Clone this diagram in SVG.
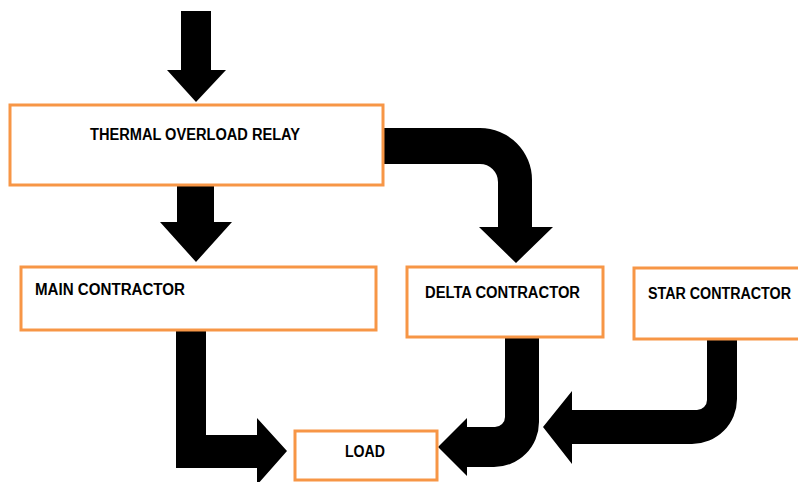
<svg xmlns="http://www.w3.org/2000/svg" width="798" height="482" viewBox="0 0 798 482">
<style>
.box{fill:#fff;stroke:#F79646;stroke-width:3}
.lbl{font-family:"Liberation Sans",Arial,sans-serif;font-weight:bold;font-size:16px;fill:#000}
.arr{fill:#000}
</style>
<rect width="798" height="482" fill="#fff"/>
<g id="connectors">
<path class="arr" d="M181,11 H211 V70 H226 L196,102 L167,70 H181 Z"/>
<path class="arr" d="M177,185 H214 V222 H232 L196,262 L160,222 H177 Z"/>
<path class="arr" d="M383,128 H480 A52,52 0 0 1 532,180 V227 H553 L516,263 L479,227 H498 V182 A18,18 0 0 0 480,164 H383 Z"/>
<path class="arr" d="M176,329 H206 V435 H257 V418 L287,451 L257,485 V468 H176 Z"/>
<path class="arr" d="M505,337 H539 V422 A45,45 0 0 1 494,467 H467 V476 L438,447 L467,418 V427 H495 A10,10 0 0 0 505,417 Z"/>
<path class="arr" d="M707,340 H737 V399 A45,45 0 0 1 692,444 H572 V464 L543,427 L572,391 V410 H697 A10,10 0 0 0 707,400 Z"/>
</g>
<g id="thermal">
<rect class="box" x="10" y="105" width="373" height="80"/>
<text class="lbl" x="90" y="140" textLength="210" lengthAdjust="spacingAndGlyphs">THERMAL OVERLOAD RELAY</text>
</g>
<g id="main">
<rect class="box" x="21" y="267" width="355" height="63"/>
<text class="lbl" x="35" y="295" textLength="150" lengthAdjust="spacingAndGlyphs">MAIN CONTRACTOR</text>
</g>
<g id="delta">
<rect class="box" x="407" y="267" width="196" height="70"/>
<text class="lbl" x="425" y="298" textLength="155" lengthAdjust="spacingAndGlyphs">DELTA CONTRACTOR</text>
</g>
<g id="star">
<rect class="box" x="634" y="268" width="170" height="71"/>
<text class="lbl" x="648" y="299" textLength="143" lengthAdjust="spacingAndGlyphs">STAR CONTRACTOR</text>
</g>
<g id="load">
<rect class="box" x="295" y="431" width="142" height="49"/>
<text class="lbl" x="345" y="457" textLength="40" lengthAdjust="spacingAndGlyphs">LOAD</text>
</g>
</svg>
